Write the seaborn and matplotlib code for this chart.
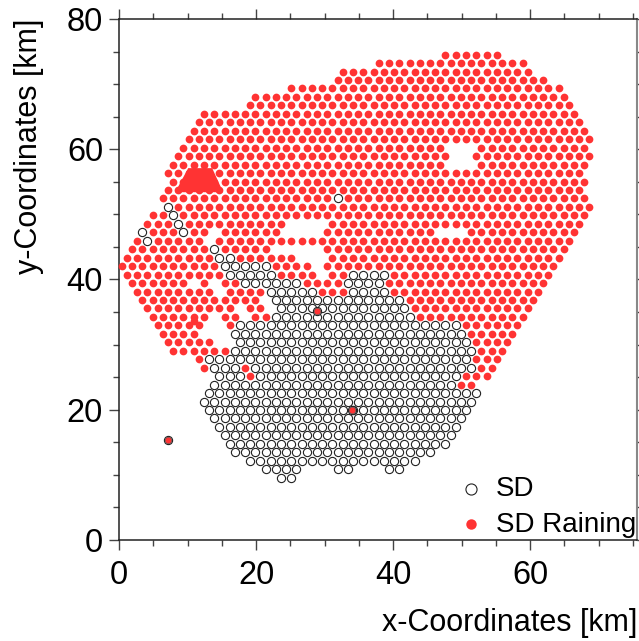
import numpy as np
import pandas as pd
import seaborn as sns
import matplotlib
matplotlib.use("Agg")
import matplotlib.pyplot as plt
from matplotlib.ticker import MultipleLocator

# Stations lie on a triangular lattice; each row lists runs (first, last) of lattice columns.
ROW_IDS = list(range(25, -26, -1))
RAINING_RUNS = [
 [(63,73)],[(50,78)],[(43,79)],[(42,82)],[(33,85)],[(26,86)],[(25,87)],[(16,88)],[(15,89)],[(14,90)],[(13,91)],
 [(12,62),(70,90)],[(11,63),(69,91)],[(10,62),(70,90)],[(9,89)],[(10,90)],[(9,89)],[(8,40),(44,90)],[(11,91)],
 [(6,8),(12,90)],[(5,9),(13,31),(41,89)],[(6,10),(14,16),(20,30),(40,60),(68,88)],[(3,3),(7,15),(19,87)],
 [(2,16),(20,28),(40,86)],[(1,17),(23,33),(41,85)],[(0,18),(30,36),(40,84)],
 [(1,19),(31,37),(41,43),(53,83)],[(2,12),(16,16),(20,22),(36,42),(52,82)],[(3,17),(21,27),(39,43),(53,81)],
 [(4,26),(56,80)],[(5,21),(25,27),(57,79)],[(6,16),(20,22),(26,28),(58,78)],[(7,15),(21,21),(67,77)],
 [(8,14),(68,76)],[(9,17),(69,75)],[(10,20),(70,74)],[(15,15),(69,73)],[(16,16),(24,24),(70,72)],
 [(25,25),(67,71)],[(66,68)],[],[],[],[],[],[],[],[],[],[],[],
]
SD_RUNS = [
 [],[],[],[],[],[],[],[],[],[],[],[],[],[],[],[],[],[(42,42)],[(9,9)],[(10,10)],[(11,11)],[(4,4),(12,12)],[(5,5)],
 [(18,18)],[(19,21)],[(20,28)],[(21,29),(45,51)],[(24,34),(44,50)],[(29,37),(45,51)],[(30,54)],[(31,55)],[(30,56)],
 [(23,65)],[(22,66)],[(23,67)],[(22,68)],[(17,67)],[(18,22),(26,68)],[(19,23),(27,65)],[(18,64)],[(17,69)],[(16,68)],
 [(17,67)],[(18,66)],[(19,65)],[(20,64)],[(21,63)],[(22,60)],[(25,57)],[(28,34),(42,44),(52,54)],[(31,33)],
]
# Separate stations read in km
EXTRA_RAIN_X = [10.9]
EXTRA_RAIN_Y = [33.7]
BOTH_X = [7.2, 28.9, 34.0]
BOTH_Y = [15.3, 35.2, 20.0]
BLOB_X = [10.1, 13.6, 15.2, 8.2]
BLOB_Y = [57.1, 57.1, 53.4, 53.4]
SERIES = ["SD", "SD Raining"]
X_LABEL = "x-Coordinates [km]"
Y_LABEL = "y-Coordinates [km]"

def expand(runs_by_row):
    xs, ys = [], []
    for k, runs in zip(ROW_IDS, runs_by_row):
        for a, b in runs:
            for c in range(a, b + 1, 2):
                xs.append(0.4 + 0.75 * c)
                ys.append(42.05 + 1.299 * k)
    return xs, ys

rx, ry = expand(RAINING_RUNS)
sx, sy = expand(SD_RUNS)
rain = pd.DataFrame({"x": rx + EXTRA_RAIN_X, "y": ry + EXTRA_RAIN_Y})
sd = pd.DataFrame({"x": sx + BOTH_X, "y": sy + BOTH_Y})
both = pd.DataFrame({"x": BOTH_X, "y": BOTH_Y})

sns.set_theme(style="white")
plt.rcParams["font.family"] = ["Liberation Sans", "DejaVu Sans"]
W, H = 639, 641
fig = plt.figure(figsize=(W / 100, H / 100), dpi=100)
ax = fig.add_axes([119 / W, 1 - 540 / H, (637 - 119) / W, (540 - 19) / H])

RED = "#FF3333"
sns.scatterplot(data=sd, x="x", y="y", ax=ax, marker="o", s=35, facecolor="white",
                edgecolor="#222222", linewidth=0.8, label=SERIES[0], clip_on=False, zorder=3)
sns.scatterplot(data=rain, x="x", y="y", ax=ax, marker="o", s=31, color=RED,
                edgecolor=RED, linewidth=0, label=SERIES[1], clip_on=False, zorder=4)
sns.scatterplot(data=both, x="x", y="y", ax=ax, marker="o", s=22, color=RED, edgecolor="#222222",
                linewidth=0.3, legend=False, zorder=5)
ax.fill(BLOB_X, BLOB_Y, color=RED, lw=0, zorder=4)

ax.set_xlim(0, 75.6)
ax.set_ylim(0, 80)
ax.xaxis.set_major_locator(MultipleLocator(20))
ax.xaxis.set_minor_locator(MultipleLocator(5))
ax.yaxis.set_major_locator(MultipleLocator(20))
ax.yaxis.set_minor_locator(MultipleLocator(5))
ax.tick_params(which="major", direction="out", length=7.5, width=1.0, color="#444444",
               top=True, right=True, bottom=True, left=True, labelsize=23.5, labelcolor="black", pad=4)
ax.tick_params(axis="x", which="major", pad=7)
ax.tick_params(which="minor", direction="out", length=4, width=1.0, color="#444444",
               top=True, right=True, bottom=True, left=True)
for name, sp in ax.spines.items():
    sp.set_linewidth(1.1)
    sp.set_color("#222222")
ax.spines["right"].set_color("#888888")
ax.spines["right"].set_linewidth(1.5)

ax.set_xlabel(X_LABEL, fontsize=22, loc="right", color="black")
ax.set_ylabel(Y_LABEL, fontsize=22, loc="top", color="black")
ax.xaxis.set_label_coords(1.0, -(608 - 540) / 521)
ax.yaxis.set_label_coords(-(119 - 44) / 518, 1.0)

leg = ax.legend(loc="lower right", frameon=False, fontsize=20, bbox_to_anchor=(1.009, -0.006),
                borderpad=0.2, labelspacing=0.35, handlelength=1.1, handletextpad=0.33,
                borderaxespad=0, markerscale=1.35)
for t in leg.get_texts():
    t.set_color("black")

fig.savefig("out.png", dpi=100)
